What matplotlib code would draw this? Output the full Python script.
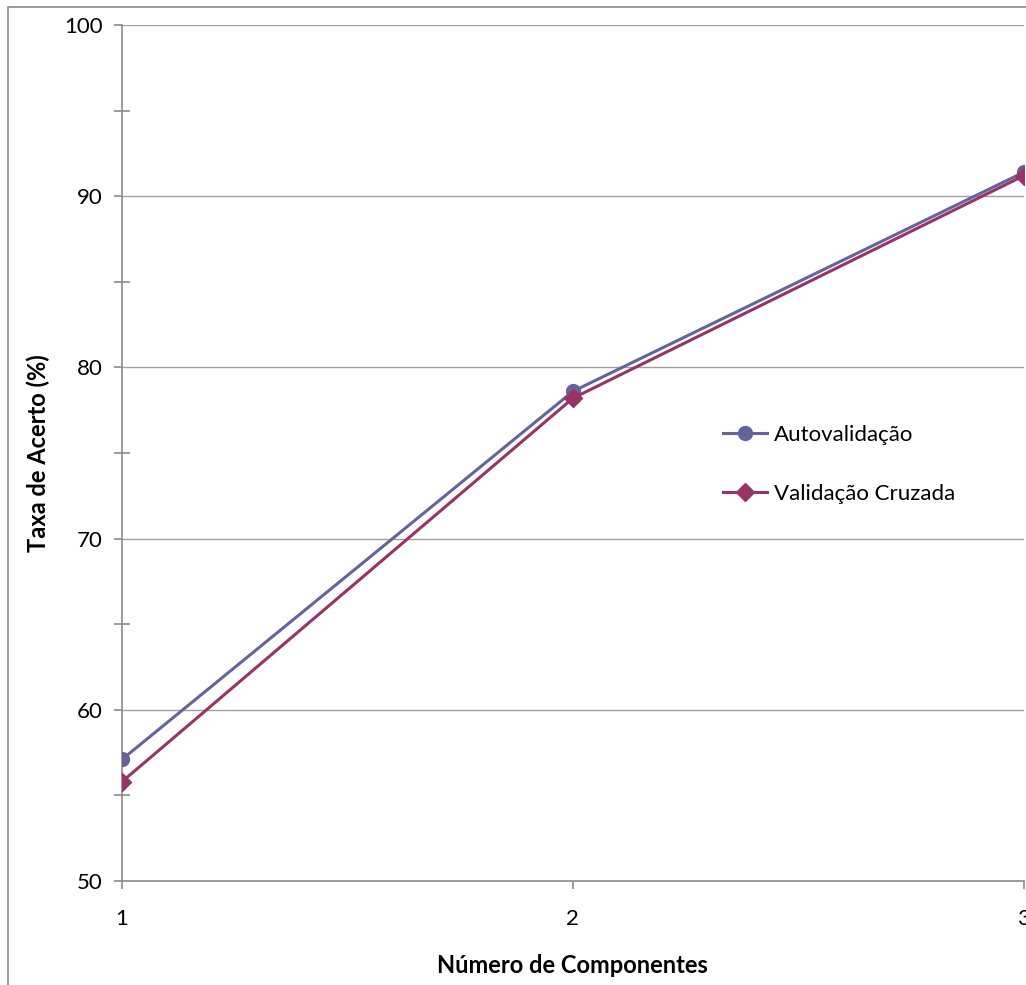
import matplotlib
matplotlib.use("Agg")
import matplotlib.pyplot as plt
from matplotlib.patches import Rectangle
from matplotlib.ticker import MultipleLocator

# --- Dados ---
componentes = [1, 2, 3]
autovalidacao = [57.1, 78.6, 91.4]
validacao_cruzada = [55.8, 78.2, 91.2]

cor_auto = '#64649A'
cor_cruz = '#993366'
cor_eixo = '#8C8C8C'

plt.rcParams['font.family'] = ['Lato', 'DejaVu Sans']

fig = plt.figure(figsize=(10.26, 9.85), dpi=100)
ax = fig.add_axes([0.1189, 0.1056, 0.879, 0.869])

# moldura externa do gráfico
fig.patches.append(Rectangle((8 / 1026, -0.01), 1.1, 1 - 7 / 985 + 0.01,
                             transform=fig.transFigure, fill=False,
                             edgecolor='#8A8A8A', linewidth=1.2))

ax.plot(componentes, autovalidacao, color=cor_auto, linewidth=2.2,
        marker='o', markersize=10, label='Autovalidação', zorder=3)
ax.plot(componentes, validacao_cruzada, color=cor_cruz, linewidth=2.2,
        marker='D', markersize=9, label='Validação Cruzada', zorder=3)

ax.set_xlim(1, 3)
ax.set_ylim(50, 100)
ax.set_xticks(componentes)
ax.yaxis.set_major_locator(MultipleLocator(10))
ax.yaxis.set_minor_locator(MultipleLocator(5))

ax.grid(axis='y', which='major', color='#A0A0A0', linewidth=1.0)
ax.set_axisbelow(True)

for lado in ['top', 'right']:
    ax.spines[lado].set_visible(False)
for lado in ['left', 'bottom']:
    ax.spines[lado].set_color(cor_eixo)
    ax.spines[lado].set_linewidth(1.2)

ax.tick_params(axis='y', which='major', direction='out', length=6,
               color=cor_eixo, width=1.2, labelsize=16, pad=8)
ax.tick_params(axis='y', which='minor', direction='inout', length=11,
               color=cor_eixo, width=1.2)
ax.tick_params(axis='x', which='major', direction='out', length=6,
               color=cor_eixo, width=1.2, labelsize=16, pad=14)

ax.set_xlabel('Número de Componentes', fontsize=17, fontweight='bold', labelpad=18)
ax.set_ylabel('Taxa de Acerto (%)', fontsize=17, fontweight='bold', labelpad=10)

ax.legend(loc='upper left', bbox_to_anchor=(0.644, 0.556), frameon=False,
          fontsize=16, labelspacing=1.75, handlelength=2.0, handletextpad=0.3)

fig.savefig('out.png', dpi=100)
